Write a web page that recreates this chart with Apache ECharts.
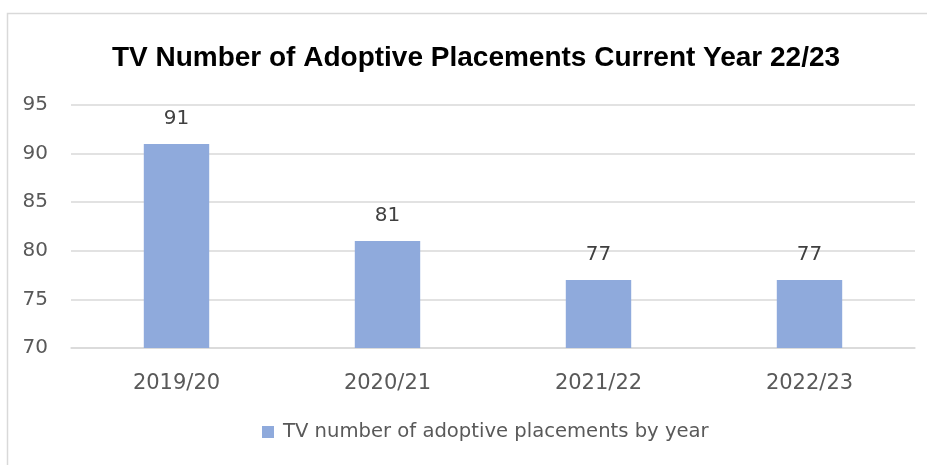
<!DOCTYPE html>
<html><head><meta charset="utf-8">
<script src="https://cdn.jsdelivr.net/npm/echarts@6/dist/echarts.min.js"></script>
<style>html,body{margin:0;padding:0;background:#fff}#c{width:927px;height:465px}</style>
</head><body><div id="c"></div>
<script>
const categories = ['2019/20', '2020/21', '2021/22', '2022/23'];
const values = [91, 81, 77, 77];
const seriesName = 'TV number of adoptive placements by year';
const titleText = 'TV Number of Adoptive Placements Current Year 22/23';
const yMin = 70, yMax = 95, yStep = 5;

const chart = echarts.init(document.getElementById('c'));
chart.setOption({
  backgroundColor: '#fff',
  animation: false,
  graphic: [{
    type: 'rect', silent: true,
    shape: { x: 7.5, y: 13.5, width: 960, height: 480 },
    style: { fill: 'none', stroke: '#d9d9d9', lineWidth: 1.5 }
  }],
  title: {
    text: titleText, left: 471, top: 39, textAlign: 'center',
    textStyle: { fontFamily: 'Liberation Sans', fontWeight: 'bold', fontSize: 28, color: '#000' }
  },
  legend: {
    bottom: 18, left: 257, itemWidth: 12, itemHeight: 12, itemGap: 8,
    icon: 'rect',
    textStyle: { fontFamily: 'DejaVu Sans', fontSize: 19.6, color: '#595959', padding: [0, 0, 0, 4] },
    data: [seriesName]
  },
  grid: { left: 71, right: 12, top: 105, bottom: 117 },
  xAxis: {
    type: 'category', data: categories,
    axisLine: { show: true, lineStyle: { color: '#d9d9d9', width: 1.5 } },
    axisTick: { show: false },
    axisLabel: { fontFamily: 'DejaVu Sans', fontSize: 21, color: '#595959', margin: 25 }
  },
  yAxis: {
    type: 'value', min: yMin, max: yMax, interval: yStep,
    axisLine: { show: false }, axisTick: { show: false },
    splitLine: { lineStyle: { color: '#d9d9d9', width: 1.5 } },
    axisLabel: { fontFamily: 'DejaVu Sans', fontSize: 20, color: '#595959', margin: 23 }
  },
  series: [{
    name: seriesName, type: 'bar', data: values, barWidth: '31%',
    itemStyle: { color: '#8FAADC' },
    label: { show: true, position: 'top', distance: 15, fontFamily: 'DejaVu Sans', fontSize: 20, color: '#404040' }
  }]
});
</script></body></html>
